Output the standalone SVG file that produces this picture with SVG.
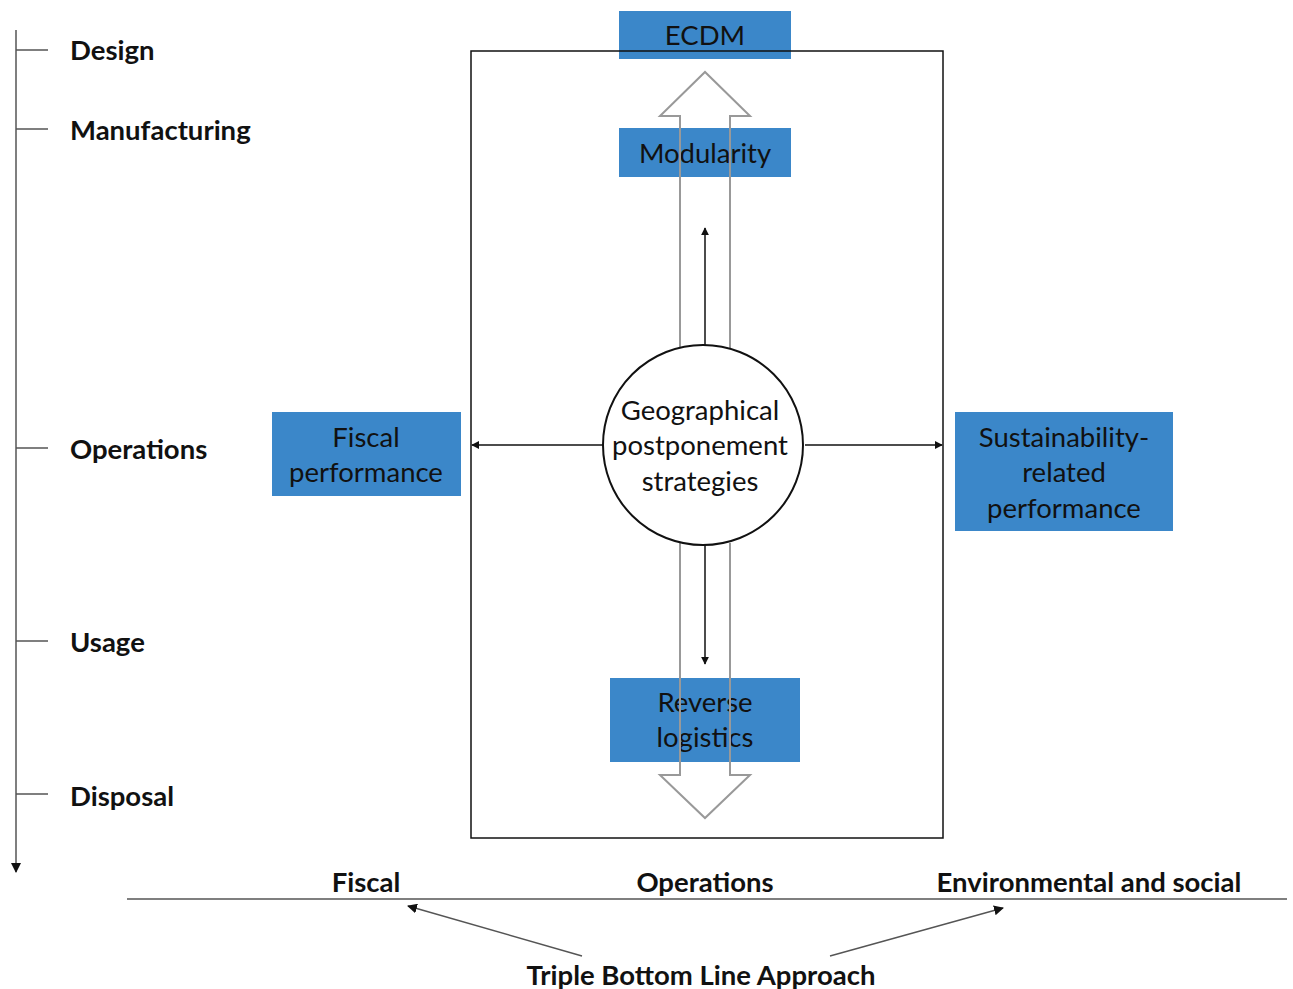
<svg xmlns="http://www.w3.org/2000/svg" width="1293" height="989" viewBox="0 0 1293 989">
  <style>
    .lbl { font-family: Lato, "Open Sans", "Liberation Sans", sans-serif; font-weight: bold; font-size: 27.5px; fill: #111; }
    .box { fill: #3b87c9; }
    .boxtxt { font-family: Lato, "Open Sans", "Liberation Sans", sans-serif; font-size: 27.5px; fill: #111; text-anchor: middle; }
    .line { stroke: #111; stroke-width: 1.5; fill: none; }
    .grey { stroke: #555; stroke-width: 1.5; fill: none; }
    .hollow { stroke: #999; stroke-width: 2; fill: none; stroke-linejoin: miter; }
  </style>
  <defs>
    <marker id="arr" viewBox="0 0 10 10" refX="9" refY="5" markerWidth="8" markerHeight="8" markerUnits="userSpaceOnUse" orient="auto">
      <path d="M0,0 L10,5 L0,10 z" fill="#111"/>
    </marker>
    <marker id="arrL" viewBox="0 0 10 10" refX="9" refY="5" markerWidth="10" markerHeight="10" markerUnits="userSpaceOnUse" orient="auto">
      <path d="M0,0 L10,5 L0,10 z" fill="#111"/>
    </marker>
  </defs>

  <rect width="1293" height="989" fill="#fff"/>

  <!-- life-cycle timeline -->
  <g id="timeline">
    <line class="grey" x1="16" y1="30" x2="16" y2="872" marker-end="url(#arrL)"/>
    <line class="grey" x1="16" y1="50" x2="48" y2="50"/>
    <line class="grey" x1="16" y1="129" x2="48" y2="129"/>
    <line class="grey" x1="16" y1="448" x2="48" y2="448"/>
    <line class="grey" x1="16" y1="641" x2="48" y2="641"/>
    <line class="grey" x1="16" y1="794" x2="48" y2="794"/>
    <text class="lbl" x="70" y="60">Design</text>
    <text class="lbl" x="70" y="140">Manufacturing</text>
    <text class="lbl" x="70" y="459">Operations</text>
    <text class="lbl" x="70" y="652">Usage</text>
    <text class="lbl" x="70" y="806">Disposal</text>
  </g>

  <!-- blue boxes -->
  <g id="ecdm">
    <rect class="box" x="619" y="11" width="172" height="48"/>
    <text class="boxtxt" x="705" y="45">ECDM</text>
  </g>
  <g id="modularity">
    <rect class="box" x="619" y="128" width="172" height="49"/>
    <text class="boxtxt" x="705" y="163">Modularity</text>
  </g>
  <g id="reverse-logistics">
    <rect class="box" x="610" y="678" width="190" height="84"/>
    <text class="boxtxt" x="705" y="712">Reverse</text>
    <text class="boxtxt" x="705" y="747">logistics</text>
  </g>
  <g id="fiscal-performance">
    <rect class="box" x="272" y="412" width="189" height="84"/>
    <text class="boxtxt" x="366" y="447">Fiscal</text>
    <text class="boxtxt" x="366" y="482">performance</text>
  </g>
  <g id="sustainability-performance">
    <rect class="box" x="955" y="412" width="218" height="119"/>
    <text class="boxtxt" x="1064" y="447">Sustainability-</text>
    <text class="boxtxt" x="1064" y="482">related</text>
    <text class="boxtxt" x="1064" y="518">performance</text>
  </g>

  <!-- frame around the strategy model -->
  <g id="frame">
    <rect class="line" x="471" y="51" width="472" height="787"/>
  </g>

  <!-- hollow block arrows -->
  <g id="block-arrows">
    <path class="hollow" d="M680,348 L680,116 L660,116 L705,72 L750,116 L730,116 L730,348"/>
    <path class="hollow" d="M680,543 L680,775 L660,775 L705,818 L750,775 L730,775 L730,543"/>
  </g>

  <g id="connectors">
    <line class="line" x1="705" y1="347" x2="705" y2="228" marker-end="url(#arr)"/>
    <line class="line" x1="705" y1="543" x2="705" y2="664" marker-end="url(#arr)"/>
    <line class="line" x1="603" y1="445" x2="472" y2="445" marker-end="url(#arr)"/>
    <line class="line" x1="805" y1="445" x2="942" y2="445" marker-end="url(#arr)"/>
    <line class="grey" x1="582" y1="956" x2="408" y2="906" marker-end="url(#arrL)"/>
    <line class="grey" x1="830" y1="956" x2="1003" y2="908" marker-end="url(#arrL)"/>
  </g>

  <!-- central strategy node -->
  <g id="strategy">
    <circle cx="703" cy="445" r="100" fill="#fff" stroke="#111" stroke-width="2"/>
    <text class="boxtxt" x="700" y="420">Geographical</text>
    <text class="boxtxt" x="700" y="455">postponement</text>
    <text class="boxtxt" x="700" y="491">strategies</text>
  </g>

  <!-- triple bottom line axis -->
  <g id="tbl">
    <line class="grey" x1="127" y1="899" x2="1287" y2="899"/>
    <text class="lbl" x="366" y="892" text-anchor="middle">Fiscal</text>
    <text class="lbl" x="705" y="892" text-anchor="middle">Operations</text>
    <text class="lbl" x="1089" y="892" text-anchor="middle">Environmental and social</text>
    <text class="lbl" x="701" y="985" text-anchor="middle">Triple Bottom Line Approach</text>
  </g>
</svg>
